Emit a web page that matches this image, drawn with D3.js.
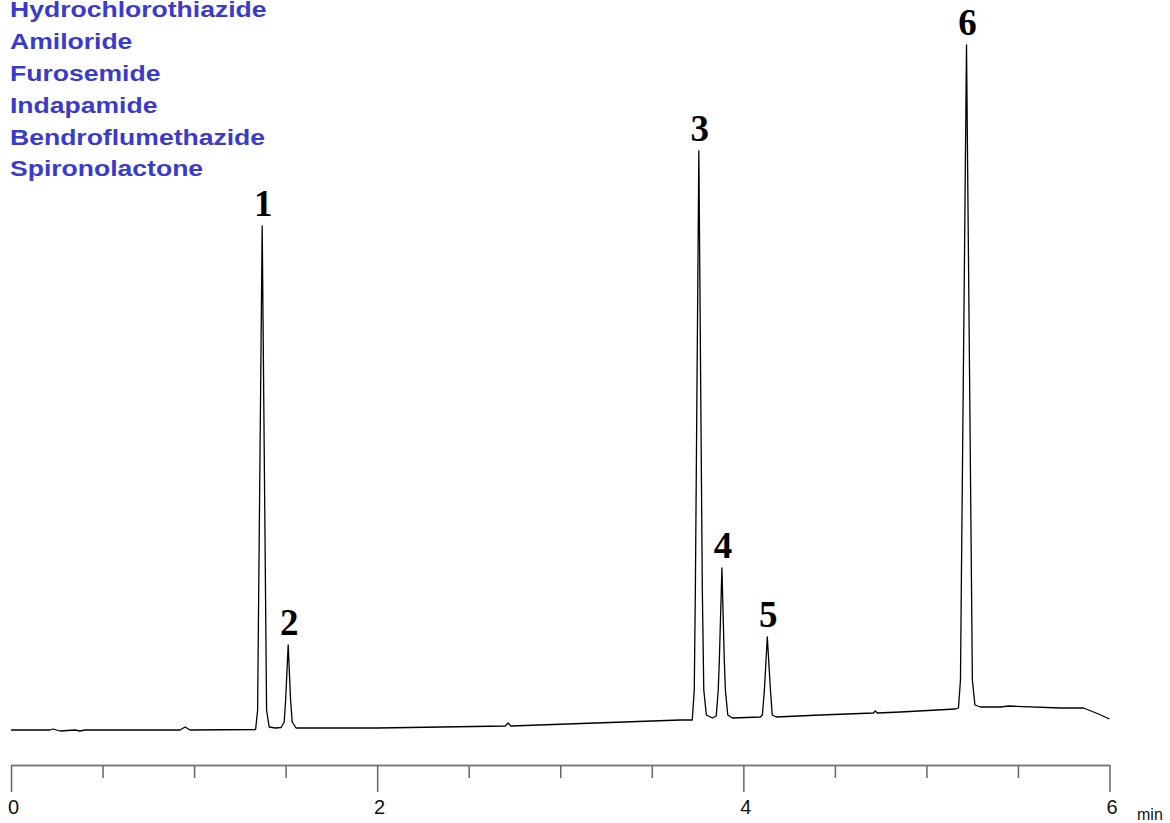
<!DOCTYPE html>
<html>
<head>
<meta charset="utf-8">
<script src="https://cdn.jsdelivr.net/npm/d3@7"></script>
<style>
    body { margin: 0; background: #fff; }
    svg { display: block; }
</style>
</head>
<body>
<div id="view"></div>
<script>
// compounds, in elution order
var compounds = ['Hydrochlorothiazide', 'Amiloride', 'Furosemide', 'Indapamide',
    'Bendroflumethazide', 'Spironolactone'];

// trace: retention time (min) and signal (mAU)
var times = [0, 0.213, 0.230, 0.268, 0.350, 0.377, 0.404, 0.923, 0.951, 0.978,
    1.336, 1.347, 1.352, 1.372, 1.391, 1.396, 1.410, 1.443, 1.475, 1.492, 1.500,
    1.514, 1.527, 1.536, 1.557, 2.000, 2.700, 2.715, 2.730, 3.656, 3.721, 3.732,
    3.738, 3.757, 3.776, 3.784, 3.798, 3.831, 3.852, 3.863, 3.869, 3.883, 3.896,
    3.902, 3.915, 3.940, 4.093, 4.104, 4.115, 4.131, 4.148, 4.158, 4.180, 4.421,
    4.710, 4.721, 4.732, 4.858, 5.158, 5.175, 5.186, 5.191, 5.219, 5.246, 5.251,
    5.265, 5.295, 5.404, 5.450, 5.732, 5.858, 5.940, 6.000];
var signal = [0, 0, 1, -1, 0, -1, 0, 0, 3, 0,
    0.5, 20, 120, 504, 120, 20, 3, 2, 2.5, 8, 30,
    85, 30, 8, 2, 2, 4, 7, 4, 10, 10, 40,
    140, 579, 140, 40, 15, 12, 14, 40, 70, 162, 70,
    40, 15, 12, 13, 15, 40, 93, 40, 15, 13, 15,
    17, 19, 17, 18, 21, 22, 50, 150, 685, 150, 50,
    25, 23, 23, 24, 22, 22, 16, 11];

// peak numbers at apex
var peakLabels = ['1', '2', '3', '4', '5', '6'];
var peakTimes = [1.372, 1.514, 3.757, 3.883, 4.131, 5.219];
var peakHeights = [504, 85, 579, 162, 93, 685];

// axis ticks
var majorTicks = [0, 2, 4, 6];
var minorTicks = [0.5, 1, 1.5, 2.5, 3, 3.5, 4.5, 5, 5.5];

var width = 1170;
var height = 823;

var svg = d3.select('#view').append('svg')
    .attr('width', width)
    .attr('height', height);

var x = d3.scaleLinear().domain([0, 6]).range([11, 1109.5]);
var y = d3.scaleLinear().domain([0, 700]).range([730, 30]);

// legend (the original lettering is a little wider than Arial)
svg.append('g')
    .attr('transform', 'translate(10, 0) scale(1.18, 1)')
    .selectAll('text')
    .data(compounds)
    .enter()
    .append('text')
    .attr('x', 0)
    .attr('y', (d, i) => 17 + i * 31.9)
    .attr('fill', '#3a3acc')
    .attr('font-family', 'Liberation Sans, Arial, sans-serif')
    .attr('font-weight', 'bold')
    .attr('font-size', 22.5)
    .text(d => d);

// trace
var points = times.map((t, i) => ({t: t, s: signal[i]}));
var line = d3.line()
    .x(d => x(d.t))
    .y(d => y(d.s));
svg.append('path')
    .datum(points)
    .attr('fill', 'none')
    .attr('stroke', '#000')
    .attr('stroke-width', 1.3)
    .attr('stroke-linejoin', 'round')
    .attr('d', line);

// peak numbers
svg.append('g')
    .selectAll('text')
    .data(peakLabels)
    .enter()
    .append('text')
    .attr('x', (d, i) => x(peakTimes[i]) + 1)
    .attr('y', (d, i) => y(peakHeights[i]) - 10)
    .attr('text-anchor', 'middle')
    .attr('font-family', 'Liberation Serif, Times New Roman, serif')
    .attr('font-weight', 'bold')
    .attr('font-size', 37)
    .text(d => d);

// axis
var axisY = 765;
var minor = svg.append('g')
    .attr('transform', `translate(0, ${axisY})`)
    .call(d3.axisBottom(x).tickValues(minorTicks).tickSize(13).tickSizeOuter(0).tickFormat(''));
var major = svg.append('g')
    .attr('transform', `translate(0, ${axisY})`)
    .call(d3.axisBottom(x).tickValues(majorTicks).tickSize(27).tickSizeOuter(0)
        .tickPadding(8).tickFormat(d3.format('d')));
[minor, major].forEach(g => {
    g.select('.domain').attr('stroke', '#777').attr('stroke-width', 1.5);
    g.selectAll('.tick line').attr('stroke', '#666').attr('stroke-width', 1.5);
});
major.selectAll('.tick text')
    .attr('x', 2)
    .attr('fill', '#111')
    .attr('font-family', 'Liberation Sans, Arial, sans-serif')
    .attr('font-size', 20);

svg.append('text')
    .attr('x', 1137)
    .attr('y', 820)
    .attr('fill', '#111')
    .attr('font-family', 'Liberation Sans, Arial, sans-serif')
    .attr('font-size', 16)
    .text('min');
</script>
</body>
</html>
